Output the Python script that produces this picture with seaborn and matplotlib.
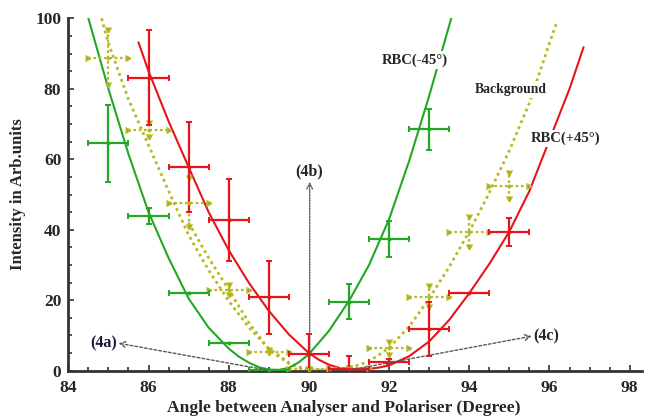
import matplotlib
matplotlib.use("Agg")
import matplotlib.pyplot as plt
from matplotlib.ticker import MultipleLocator
import seaborn as sns

########
# Data #
########

# RBC(-45°)
green_x = [85, 86, 87, 88, 89, 91, 92, 93]
green_y = [64.5, 43.9, 22.1, 8.0, 0.3, 19.6, 37.5, 68.5]
green_yerr = [10.9, 2.2, 0, 0, 0, 5.0, 5.1, 5.8]
green_xerr = [0.5] * len(green_x)

# RBC(+45°)
red_x = [86, 87, 88, 89, 90, 91, 92, 93, 94, 95]
red_y = [83.2, 57.9, 42.8, 20.8, 4.7, 0.4, 2.6, 11.8, 22.1, 39.3]
red_yerr = [13.4, 12.8, 11.7, 10.3, 5.7, 3.9, 0.6, 7.6, 0, 4.0]
red_xerr = [0.5] * len(red_x)

# Background
bg_x = [85, 86, 87, 88, 89, 90, 91, 92, 93, 94, 95]
bg_y = [88.8, 68.3, 47.7, 22.9, 5.4, 0.5, 0.7, 6.3, 21.0, 39.4, 52.4]
bg_yerr = [7.8, 1.9, 7.0, 1.4, 0.5, 0, 0, 1.9, 3.0, 4.3, 3.8]
bg_xerr = [0.5] * len(bg_x)

# fitted curves
green_fit_x = [84.5, 85.0, 85.5, 86.0, 86.5, 87.0, 87.5, 88.0, 88.25, 88.5,
               88.75, 89.0, 89.25, 89.5, 89.75, 90.0, 90.5, 91.0, 91.5, 92.0,
               92.5, 93.0, 93.55]
green_fit_y = [100, 80, 61.5, 45, 32, 20.5, 12.2, 6.3, 4.0, 2.3,
               1.0, 0.3, 0.2, 0.8, 2.4, 4.7, 11.3, 19.8, 30, 43,
               59.5, 78, 100]

red_fit_x = [85.75, 86.0, 86.5, 87.0, 87.5, 88.0, 88.5, 89.0, 89.5, 90.0,
             90.25, 90.5, 90.75, 91.0, 91.25, 91.5, 91.75, 92.0, 92.5, 93.0,
             93.5, 94.0, 94.5, 95.0, 95.5, 96.0, 96.5, 96.85]
red_fit_y = [93.2, 85, 70.8, 57.8, 45, 34.2, 25, 17, 10.3, 5.0,
             3.1, 1.7, 0.8, 0.4, 0.3, 0.5, 0.9, 1.5, 4.1, 8.3,
             14.4, 22, 30.3, 39.5, 51, 65.5, 80, 91.8]

bg_fit_x = [84.83, 85.0, 85.5, 86.0, 86.5, 87.0, 87.5, 88.0, 88.5, 89.0,
            89.5, 89.75, 90.0, 90.25, 90.5, 90.75, 91.0, 91.5, 92.0, 92.5,
            93.0, 93.5, 94.0, 94.5, 95.0, 95.5, 96.0, 96.17]
bg_fit_y = [100, 93, 77, 64, 51, 38.5, 28.5, 19.8, 12.3, 6.3,
            2.3, 1.0, 0.4, 0.2, 0.2, 0.4, 0.8, 2.6, 6.5, 12.5,
            20.5, 29.5, 39.5, 50.5, 62.5, 76, 93, 98.5]

bg_low_x = [87.0, 87.5, 88.0, 88.5, 89.0, 89.5, 89.75, 90.0]
bg_low_y = [42, 32, 23, 13.7, 6.0, 2.0, 0.9, 0.3]

GREEN = "#22a822"
RED = "#e8141c"
YELLOW = "#b8b824"

#########
# Style #
#########

sns.set_style("ticks")
plt.rcParams["font.family"] = ["Liberation Serif", "DejaVu Serif"]
plt.rcParams["font.weight"] = "bold"

fig = plt.figure(figsize=(6.45, 4.2), dpi=100)
ax = fig.add_axes([0.1059, 0.1174, 0.889, 0.839])

########
# Plot #
########

sns.lineplot(x=green_fit_x, y=green_fit_y, ax=ax, color=GREEN, lw=1.5, zorder=3)
sns.lineplot(x=red_fit_x, y=red_fit_y, ax=ax, color=RED, lw=1.5, zorder=3)
sns.lineplot(x=bg_fit_x, y=bg_fit_y, ax=ax, color=YELLOW, lw=2,
             linestyle=(0, (1, 1.3)), zorder=2)
sns.lineplot(x=bg_low_x, y=bg_low_y, ax=ax, color=YELLOW, lw=2,
             linestyle=(0, (1, 1.3)), zorder=2)


def bars(x, y, xerr, yerr, color, dotted=False):
    cont = ax.errorbar(x, y, xerr=xerr, yerr=yerr, fmt="none", ecolor=color,
                       elinewidth=1.6, capsize=2, capthick=1.4, zorder=4)
    _, caps, cols = cont
    if dotted:
        for c in cols:
            c.set_linestyle((0, (1.2, 1.2)))
        for c in caps:
            m = c.get_marker()
            c.set_marker("v" if m == "_" else ">")
            c.set_markersize(3)
    sns.scatterplot(x=x, y=y, ax=ax, color=color, s=8, linewidth=0, zorder=5)


bars(bg_x, bg_y, bg_xerr, bg_yerr, YELLOW, dotted=True)
bars(green_x, green_y, green_xerr, green_yerr, GREEN)
bars(red_x, red_y, red_xerr, red_yerr, RED)

# annotations
arrow = dict(arrowstyle="->", linestyle=(0, (2, 1.5)), color="0.35", lw=1,
             shrinkA=0, shrinkB=0)
ax.annotate("", xy=(85.25, 7.8), xytext=(88.95, 0.2), arrowprops=arrow, zorder=6)
ax.text(85.22, 7.8, "(4a)", fontsize=11.5, ha="right", va="center", color="#1a1a33")
ax.annotate("", xy=(90.02, 53.6), xytext=(90.02, 0),
            arrowprops=dict(arrow, linestyle=(0, (1, 1))), zorder=6)
ax.text(90.0, 56.6, "(4b)", fontsize=11.5, ha="center", va="center")
ax.annotate("", xy=(95.56, 9.8), xytext=(91.02, 0.2), arrowprops=arrow, zorder=6)
ax.text(95.6, 9.8, "(4c)", fontsize=11.5, ha="left", va="center")

box = dict(facecolor="white", edgecolor="none", pad=1.5)
ax.text(92.65, 88.2, "RBC(-45°)", fontsize=10.5, ha="center", va="center",
        bbox=box, zorder=7)
ax.text(95.04, 79.9, "Background", fontsize=9.8, ha="center", va="center",
        bbox=box, zorder=7)
ax.text(96.39, 65.9, "RBC(+45°)", fontsize=10.5, ha="center", va="center",
        bbox=box, zorder=7)

ax.set_xlim(84, 98.3)
ax.set_ylim(0, 100)
ax.xaxis.set_major_locator(MultipleLocator(2))
ax.xaxis.set_minor_locator(MultipleLocator(0.5))
ax.yaxis.set_major_locator(MultipleLocator(20))
ax.yaxis.set_minor_locator(MultipleLocator(5))
ax.tick_params(which="both", direction="in", color="#333333", width=1.2,
               labelsize=12.5)
ax.tick_params(which="major", length=4)
ax.tick_params(which="minor", length=3)
ax.tick_params(axis="x", pad=7)
ax.tick_params(axis="y", pad=5)
for lab in ax.get_xticklabels() + ax.get_yticklabels():
    lab.set_fontweight("bold")

sns.despine(ax=ax)
for s in ("left", "bottom"):
    ax.spines[s].set_color("#333333")
    ax.spines[s].set_linewidth(2)

ax.set_xlabel("Angle between Analyser and Polariser (Degree)", fontsize=12.6,
              fontweight="bold", labelpad=4)
ax.xaxis.set_label_coords(0.48, -0.083)
ax.set_ylabel("Intensity in Arb.units", fontsize=12, fontweight="bold",
              labelpad=7)

fig.savefig("out.png", dpi=100)
